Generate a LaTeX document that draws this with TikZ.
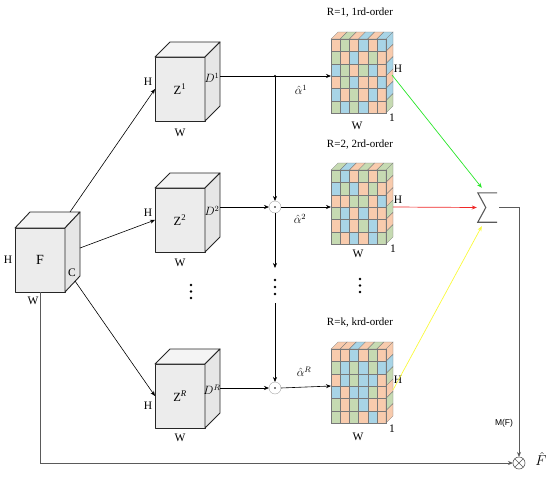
\documentclass[tikz,border=0pt]{standalone}
\usepackage{fontspec}
\setmainfont{Liberation Serif}
\newfontfamily\labsans{Liberation Sans}
\usetikzlibrary{arrows.meta,calc}
\definecolor{cO}{RGB}{248,203,173}
\definecolor{cG}{RGB}{198,218,178}
\definecolor{cB}{RGB}{168,212,230}
\definecolor{cubeF}{RGB}{236,236,236}
\definecolor{cubeT}{RGB}{244,244,244}
\definecolor{cubeR}{RGB}{230,230,230}
\definecolor{gridc}{RGB}{120,120,120}
\definecolor{outc}{RGB}{90,90,90}
\newcommand\drawcube[3]{%
  \draw[cubeedge, fill=cubeT] (#1.north west) -- ++(#2,#3) -- ($(#1.north east)+(#2,#3)$) -- (#1.north east) -- cycle;
  \draw[cubeedge, fill=cubeR] (#1.north east) -- ++(#2,#3) -- ($(#1.south east)+(#2,#3)$) -- (#1.south east) -- cycle;}
\newcommand\drawtensor[4]{%
  \foreach \cc [count=\ii from 0] in {#2} {
    \pgfmathtruncatemacro\rr{int(\ii/6)}
    \pgfmathtruncatemacro\kk{mod(\ii,6)}
    \filldraw[fill=\cc, draw=gridc, line width=0.3pt] ($(#1.north west)+(\kk*55/6,\rr*74/6)$) rectangle ++(55/6,74/6);
  }
  \foreach \cc [count=\ii from 0] in {#3} {
    \filldraw[fill=\cc, draw=gridc, line width=0.3pt] ($(#1.north west)+(\ii*55/6,0)$) -- ++(55/6,0) -- ++(7,-7) -- ++(-55/6,0) -- cycle;
  }
  \foreach \cc [count=\ii from 0] in {#4} {
    \filldraw[fill=\cc, draw=gridc, line width=0.3pt] ($(#1.north east)+(0,\ii*74/6)$) -- ++(7,-7) -- ++(0,74/6) -- ++(-7,7) -- cycle;
  }
  \draw[gridc, line width=0.5pt] (#1.north west) rectangle (#1.south east);}
\begin{document}
\begin{tikzpicture}[x=1pt,y=-1pt,
  cubeedge/.style={draw=black!85, line width=0.9pt, line join=round},
  cubefront/.style={cubeedge, fill=cubeF, minimum width=50pt, minimum height=64pt, inner sep=0pt, outer sep=0pt, font=\fontsize{14}{14}\selectfont},
  tens/.style={minimum width=55pt, minimum height=74pt, inner sep=0pt, outer sep=0pt},
  lab/.style={font=\fontsize{11.5}{11.5}\selectfont, inner sep=0pt},
  ttl/.style={font=\fontsize{11}{11}\selectfont, inner sep=0pt},
  arr/.style={-{Stealth[length=5pt,width=4pt]}, line width=0.6pt},
  garr/.style={-{Stealth[length=5pt,width=4pt]}, line width=0.7pt},
  odot/.style={circle, draw=gray!70, fill=white, minimum size=12pt, inner sep=0pt, outer sep=0pt}
]
\useasboundingbox (0,0) rectangle (550,477);

% ---------- input cube F
\node[cubefront] (F) at (40,260) {F};
\drawcube{F}{15}{-16}
\node[lab] (FH) at (8,260) {H};
\node[lab] (FC) at (72,273) {C};
\node[lab] (FW) at (33,301) {W};

% ---------- Z cubes
\node[cubefront, font=\fontsize{12.5}{12.5}\selectfont] (Z1) at (180,89) {Z\textsuperscript{1}};
\drawcube{Z1}{15}{-15}
\node[cubefront, font=\fontsize{12.5}{12.5}\selectfont] (Z2) at (180,220) {Z\textsuperscript{2}};
\drawcube{Z2}{15}{-15}
\node[cubefront, font=\fontsize{12.5}{12.5}\selectfont] (ZR) at (180,396) {Z\textsuperscript{\textit{R}}};
\drawcube{ZR}{15}{-15}

\node[lab] (Z1H) at (148,82) {H};
\node[lab] (Z2H) at (148,213) {H};
\node[lab] (ZRH) at (148,406) {H};
\node[lab] (Z1W) at (180,133) {W};
\node[lab] (Z2W) at (180,263) {W};
\node[lab] (ZRW) at (180,438) {W};
\node[lab] (Z1D) at (212,78) {$D^{1}$};
\node[lab] (Z2D) at (212,211) {$D^{2}$};
\node[lab] (ZRD) at (212,390) {$D^{R}$};

% ---------- tensors
\node[tens] (T1) at (358.5,76) {};
\drawtensor{T1}{cO,cG,cO,cB,cO,cB, cG,cO,cB,cO,cG,cO, cB,cG,cO,cG,cB,cO, cO,cG,cB,cO,cO,cB, cB,cO,cG,cO,cB,cO, cG,cB,cG,cB,cO,cO}{cO,cG,cO,cB,cO,cB}{cB,cO,cB,cO,cB,cG}
\node[tens] (T2) at (358.5,207) {};
\drawtensor{T2}{cG,cB,cO,cG,cO,cG, cB,cG,cB,cO,cG,cO, cO,cO,cG,cG,cO,cB, cG,cB,cO,cB,cO,cO, cO,cB,cO,cG,cB,cO, cG,cO,cB,cO,cB,cG}{cG,cB,cO,cG,cO,cG}{cG,cO,cO,cG,cO,cG}
\node[tens] (T3) at (358.5,386) {};
\drawtensor{T3}{cO,cO,cB,cO,cG,cO, cG,cB,cG,cB,cG,cB, cO,cB,cG,cB,cB,cO, cB,cO,cB,cB,cG,cO, cG,cO,cG,cB,cO,cO, cG,cO,cG,cO,cB,cO}{cO,cO,cB,cO,cG,cO}{cO,cB,cG,cO,cG,cO}

\node[ttl] (R1) at (360,13) {R=1, 1rd-order};
\node[ttl] (R2) at (360,145) {R=2, 2rd-order};
\node[ttl] (R3) at (360,323) {R=k, krd-order};
\node[lab] (T1H) at (398,69) {H};
\node[lab] (T2H) at (398,200) {H};
\node[lab] (T3H) at (398,380) {H};
\node[lab] (T1W) at (357,126) {W};
\node[lab] (T2W) at (358,254) {W};
\node[lab] (T3W) at (358,437) {W};
\node[lab] (T11) at (392,118) {1};
\node[lab] (T21) at (393,249) {1};
\node[lab] (T31) at (392,429) {1};

% ---------- connectors from F
\coordinate (Fa) at ($(F.north east)+(5,-16)$);
\coordinate (Fb) at ($(F.north east)+(15,20)$);
\coordinate (Fc) at ($(F.south east)+(10,-11)$);
\draw[arr] (Fa) -- (Z1.west);
\draw[arr] (Fb) -- (Z2.west);
\draw[arr] (Fc) -- (ZR.west);

% ---------- middle column
\node[odot] (O2) at (275,207) {};
\fill (O2.center) circle (0.9);
\node[odot] (O3) at (275,388) {};
\fill (O3.center) circle (0.9);
\coordinate (Z1o) at ($(Z1.east)+(15,-13)$);
\coordinate (Z2o) at ($(Z2.east)+(15,-13)$);
\coordinate (ZRo) at ($(ZR.east)+(15,-8)$);
\coordinate (J) at (275,76);
\coordinate (V1) at (275,268);
\coordinate (V2) at (275,303);
\draw[arr] (Z1o) -- (T1.west);
\fill (J) circle (1.2);
\draw[arr] (J) -- (O2.north);
\draw[arr] (Z2o) -- (O2.west);
\draw[arr] (O2.east) -- (T2.west);
\draw[arr] (O2.south) -- (V1);
\draw[arr] (V2) -- (O3.north);
\draw[arr] (ZRo) -- (O3.west);
\draw[arr] (O3.east) -- (T3.west);

\node[lab, font=\fontsize{12}{12}\selectfont] (A1) at (301,90) {$\hat{\alpha}^{1}$};
\node[lab, font=\fontsize{12}{12}\selectfont] (A2) at (300,219) {$\hat{\alpha}^{2}$};
\node[lab, font=\fontsize{12}{12}\selectfont] (A3) at (304,372) {$\hat{\alpha}^{R}$};

% vertical dots
\foreach \yy in {285,291.5,298} \fill (191,\yy) circle (1.3);
\foreach \yy in {280,287,294} \fill (275,\yy) circle (1.3);
\foreach \yy in {279,285.5,292} \fill (360,\yy) circle (1.3);

% ---------- sum
\node[minimum width=19pt, minimum height=29pt, inner sep=0pt] (S) at (487.5,207.5) {};
\draw[outc, line width=1.1pt] (S.north east) -- (S.north west) -- ($(S.west)+(8,0)$) -- (S.south west) -- (S.south east);
\coordinate (T1o) at ($(T1.east)+(6,-1)$);
\coordinate (T2o) at ($(T2.east)+(7,0)$);
\coordinate (T3o) at ($(T3.east)+(7,4)$);
\coordinate (Sg) at ($(S.north west)+(4,-5)$);
\coordinate (Sr) at ($(S.west)+(-1,0)$);
\coordinate (Sy) at ($(S.south west)+(4,4)$);
\draw[garr, color={rgb,255:red,40;green,230;blue,40}] (T1o) -- (Sg);
\draw[garr, color={rgb,255:red,240;green,40;blue,40}] (T2o) -- (Sr);
\draw[garr, color={rgb,255:red,250;green,250;blue,60}] (T3o) -- (Sy);

% ---------- output
\node[circle, draw=outc, minimum size=12pt, inner sep=0pt, outer sep=0pt, line width=0.6pt] (X) at (519,463) {};
\draw[outc, line width=0.6pt] (X.north west) -- (X.south east) (X.north east) -- (X.south west);
\coordinate (So) at ($(S.east)+(2,0)$);
\draw[arr, outc, line width=1pt] (So) -| (X.north);
\draw[arr, outc, line width=0.8pt] (F.south) |- (X.west);
\node[font=\labsans\fontsize{8.5}{8.5}\selectfont, inner sep=0pt] (MF) at (504,423) {M(F)};
\node[font=\fontsize{14}{14}\selectfont, inner sep=0pt] (Fh) at (541,459) {$\hat{F}$};
\end{tikzpicture}
\end{document}
